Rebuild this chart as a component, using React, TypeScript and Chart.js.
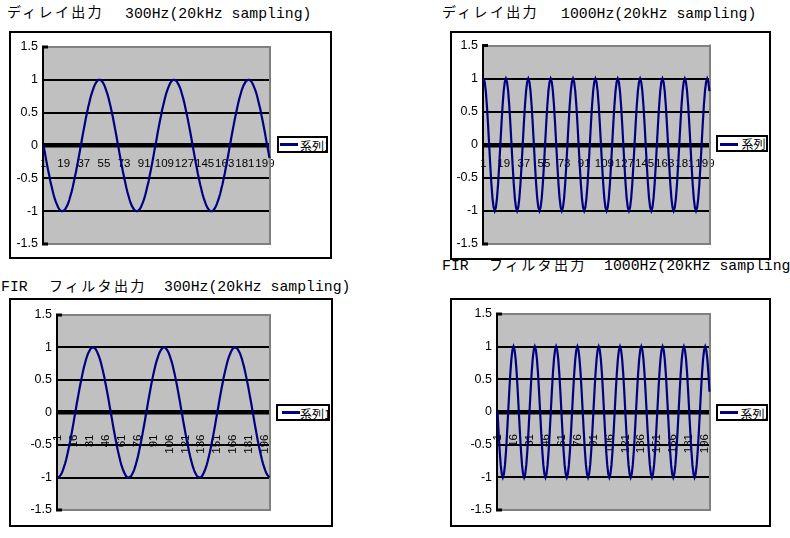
import { useEffect, useRef } from 'react';
import { Chart, registerables } from 'chart.js';

Chart.register(...registerables);

// ---------- data ----------
const SERIES_NAME = '系列1';
const TICKS_EVERY_18 = ['1', '19', '37', '55', '73', '91', '109', '127', '145', '163', '181', '199'];
const TICKS_EVERY_15 = ['1', '16', '31', '46', '61', '76', '91', '106', '121', '136', '151', '166', '181', '196'];
const Y_MIN = -1.5;
const Y_MAX = 1.5;
const Y_STEP = 0.5;

// ディレイ出力 300Hz
const DELAY_300 = [
  0, -0.09, -0.19, -0.28, -0.37, -0.45, -0.54, -0.61, -0.68, -0.75,
  -0.81, -0.86, -0.9, -0.94, -0.97, -0.99, -1, -1, -0.99, -0.98,
  -0.95, -0.92, -0.88, -0.83, -0.77, -0.71, -0.64, -0.56, -0.48, -0.4,
  -0.31, -0.22, -0.13, -0.03, 0.06, 0.16, 0.25, 0.34, 0.43, 0.51,
  0.59, 0.66, 0.73, 0.79, 0.84, 0.89, 0.93, 0.96, 0.98, 1,
  1, 1, 0.98, 0.96, 0.93, 0.89, 0.84, 0.79, 0.73, 0.66,
  0.59, 0.51, 0.43, 0.34, 0.25, 0.16, 0.06,
  -0.03, -0.13, -0.22, -0.31, -0.4, -0.48, -0.56, -0.64, -0.71, -0.77,
  -0.83, -0.88, -0.92, -0.95, -0.98, -0.99, -1, -1, -0.99, -0.97,
  -0.94, -0.9, -0.86, -0.81, -0.75, -0.68, -0.61, -0.54, -0.45, -0.37,
  -0.28, -0.19, -0.09, 0, 0.09, 0.19, 0.28, 0.37, 0.45, 0.54,
  0.61, 0.68, 0.75, 0.81, 0.86, 0.9, 0.94, 0.97, 0.99, 1,
  1, 0.99, 0.98, 0.95, 0.92, 0.88, 0.83, 0.77, 0.71, 0.64,
  0.56, 0.48, 0.4, 0.31, 0.22, 0.13, 0.03,
  -0.06, -0.16, -0.25, -0.34, -0.43, -0.51, -0.59, -0.66, -0.73, -0.79,
  -0.84, -0.89, -0.93, -0.96, -0.98, -1, -1, -1, -0.98, -0.96,
  -0.93, -0.89, -0.84, -0.79, -0.73, -0.66, -0.59, -0.51, -0.43, -0.34,
  -0.25, -0.16, -0.06, 0.03, 0.13, 0.22, 0.31, 0.4, 0.48, 0.56,
  0.64, 0.71, 0.77, 0.83, 0.88, 0.92, 0.95, 0.98, 0.99, 1,
  1, 0.99, 0.97, 0.94, 0.9, 0.86, 0.81, 0.75, 0.68, 0.61,
  0.54, 0.45, 0.37, 0.28, 0.19, 0.09,
  0, -0.09, -0.19,
];

// ディレイ出力 1000Hz
const DELAY_1000 = [
  1, 0.95, 0.81, 0.59, 0.31, 0, -0.31, -0.59, -0.81, -0.95, -1, -0.95, -0.81, -0.59, -0.31, 0, 0.31, 0.59, 0.81, 0.95,
  1, 0.95, 0.81, 0.59, 0.31, 0, -0.31, -0.59, -0.81, -0.95, -1, -0.95, -0.81, -0.59, -0.31, 0, 0.31, 0.59, 0.81, 0.95,
  1, 0.95, 0.81, 0.59, 0.31, 0, -0.31, -0.59, -0.81, -0.95, -1, -0.95, -0.81, -0.59, -0.31, 0, 0.31, 0.59, 0.81, 0.95,
  1, 0.95, 0.81, 0.59, 0.31, 0, -0.31, -0.59, -0.81, -0.95, -1, -0.95, -0.81, -0.59, -0.31, 0, 0.31, 0.59, 0.81, 0.95,
  1, 0.95, 0.81, 0.59, 0.31, 0, -0.31, -0.59, -0.81, -0.95, -1, -0.95, -0.81, -0.59, -0.31, 0, 0.31, 0.59, 0.81, 0.95,
  1, 0.95, 0.81, 0.59, 0.31, 0, -0.31, -0.59, -0.81, -0.95, -1, -0.95, -0.81, -0.59, -0.31, 0, 0.31, 0.59, 0.81, 0.95,
  1, 0.95, 0.81, 0.59, 0.31, 0, -0.31, -0.59, -0.81, -0.95, -1, -0.95, -0.81, -0.59, -0.31, 0, 0.31, 0.59, 0.81, 0.95,
  1, 0.95, 0.81, 0.59, 0.31, 0, -0.31, -0.59, -0.81, -0.95, -1, -0.95, -0.81, -0.59, -0.31, 0, 0.31, 0.59, 0.81, 0.95,
  1, 0.95, 0.81, 0.59, 0.31, 0, -0.31, -0.59, -0.81, -0.95, -1, -0.95, -0.81, -0.59, -0.31, 0, 0.31, 0.59, 0.81, 0.95,
  1, 0.95, 0.81, 0.59, 0.31, 0, -0.31, -0.59, -0.81, -0.95, -1, -0.95, -0.81, -0.59, -0.31, 0, 0.31, 0.59, 0.81, 0.95,
  1, 0.95, 0.81,
];

// FIR フィルタ出力 300Hz
const FIR_300 = [
  -1, -1, -0.98, -0.96, -0.93, -0.89, -0.84, -0.79, -0.73, -0.66,
  -0.59, -0.51, -0.43, -0.34, -0.25, -0.16, -0.06, 0.03, 0.13, 0.22,
  0.31, 0.4, 0.48, 0.56, 0.64, 0.71, 0.77, 0.83, 0.88, 0.92,
  0.95, 0.98, 0.99, 1, 1, 0.99, 0.97, 0.94, 0.9, 0.86,
  0.81, 0.75, 0.68, 0.61, 0.54, 0.45, 0.37, 0.28, 0.19, 0.09,
  0, -0.09, -0.19, -0.28, -0.37, -0.45, -0.54, -0.61, -0.68, -0.75,
  -0.81, -0.86, -0.9, -0.94, -0.97, -0.99, -1,
  -1, -0.99, -0.98, -0.95, -0.92, -0.88, -0.83, -0.77, -0.71, -0.64,
  -0.56, -0.48, -0.4, -0.31, -0.22, -0.13, -0.03, 0.06, 0.16, 0.25,
  0.34, 0.43, 0.51, 0.59, 0.66, 0.73, 0.79, 0.84, 0.89, 0.93,
  0.96, 0.98, 1, 1, 1, 0.98, 0.96, 0.93, 0.89, 0.84,
  0.79, 0.73, 0.66, 0.59, 0.51, 0.43, 0.34, 0.25, 0.16, 0.06,
  -0.03, -0.13, -0.22, -0.31, -0.4, -0.48, -0.56, -0.64, -0.71, -0.77,
  -0.83, -0.88, -0.92, -0.95, -0.98, -0.99, -1,
  -1, -0.99, -0.97, -0.94, -0.9, -0.86, -0.81, -0.75, -0.68, -0.61,
  -0.54, -0.45, -0.37, -0.28, -0.19, -0.09, 0, 0.09, 0.19, 0.28,
  0.37, 0.45, 0.54, 0.61, 0.68, 0.75, 0.81, 0.86, 0.9, 0.94,
  0.97, 0.99, 1, 1, 0.99, 0.98, 0.95, 0.92, 0.88, 0.83,
  0.77, 0.71, 0.64, 0.56, 0.48, 0.4, 0.31, 0.22, 0.13, 0.03,
  -0.06, -0.16, -0.25, -0.34, -0.43, -0.51, -0.59, -0.66, -0.73, -0.79,
  -0.84, -0.89, -0.93, -0.96, -0.98, -1,
];

// FIR フィルタ出力 1000Hz
const FIR_1000 = [
  0, -0.31, -0.59, -0.81, -0.95, -1, -0.95, -0.81, -0.59, -0.31, 0, 0.31, 0.59, 0.81, 0.95, 1, 0.95, 0.81, 0.59, 0.31,
  0, -0.31, -0.59, -0.81, -0.95, -1, -0.95, -0.81, -0.59, -0.31, 0, 0.31, 0.59, 0.81, 0.95, 1, 0.95, 0.81, 0.59, 0.31,
  0, -0.31, -0.59, -0.81, -0.95, -1, -0.95, -0.81, -0.59, -0.31, 0, 0.31, 0.59, 0.81, 0.95, 1, 0.95, 0.81, 0.59, 0.31,
  0, -0.31, -0.59, -0.81, -0.95, -1, -0.95, -0.81, -0.59, -0.31, 0, 0.31, 0.59, 0.81, 0.95, 1, 0.95, 0.81, 0.59, 0.31,
  0, -0.31, -0.59, -0.81, -0.95, -1, -0.95, -0.81, -0.59, -0.31, 0, 0.31, 0.59, 0.81, 0.95, 1, 0.95, 0.81, 0.59, 0.31,
  0, -0.31, -0.59, -0.81, -0.95, -1, -0.95, -0.81, -0.59, -0.31, 0, 0.31, 0.59, 0.81, 0.95, 1, 0.95, 0.81, 0.59, 0.31,
  0, -0.31, -0.59, -0.81, -0.95, -1, -0.95, -0.81, -0.59, -0.31, 0, 0.31, 0.59, 0.81, 0.95, 1, 0.95, 0.81, 0.59, 0.31,
  0, -0.31, -0.59, -0.81, -0.95, -1, -0.95, -0.81, -0.59, -0.31, 0, 0.31, 0.59, 0.81, 0.95, 1, 0.95, 0.81, 0.59, 0.31,
  0, -0.31, -0.59, -0.81, -0.95, -1, -0.95, -0.81, -0.59, -0.31, 0, 0.31, 0.59, 0.81, 0.95, 1, 0.95, 0.81, 0.59, 0.31,
  0, -0.31, -0.59, -0.81, -0.95, -1, -0.95, -0.81, -0.59, -0.31, 0, 0.31, 0.59, 0.81, 0.95, 1, 0.95, 0.81, 0.59, 0.31,
];

// ---------- styling ----------
const SANS = '"Liberation Sans", Arial, sans-serif';
const MONO = '"Liberation Mono", "DejaVu Sans Mono", monospace';
const JP = '"Noto Sans CJK JP", sans-serif';
const NAVY = '#000080';

type Part = { text: string; x: number; top: number; kind: 'jp' | 'mono' };
type Box = { left: number; top: number; width: number; height: number };
type Spec = {
  data: number[];
  shown: string[];
  rotation: number;
  tickPad: number;
  frame: Box;
  yWidth: number;
  pad: { top: number; right: number; bottom: number };
  legend: Box & { lineLeft: number; lineTop: number; textLeft: number; textTop: number };
  title: Part[];
};

const SPECS: Spec[] = [
  {
    data: DELAY_300,
    shown: TICKS_EVERY_18,
    rotation: 0,
    tickPad: 11,
    frame: { left: 9, top: 31, width: 323, height: 228 },
    yWidth: 32,
    pad: { top: 14, right: 60, bottom: 13 },
    legend: { left: 277, top: 136, width: 51, height: 17, lineLeft: 1, lineTop: 5, textLeft: 21, textTop: 1 },
    title: [
      { text: 'ディレイ出力', x: 7, top: 1.2, kind: 'jp' },
      { text: '300Hz(20kHz sampling)', x: 125, top: 4.3, kind: 'mono' },
    ],
  },
  {
    data: DELAY_1000,
    shown: TICKS_EVERY_18,
    rotation: 0,
    tickPad: 12,
    frame: { left: 450, top: 31, width: 321, height: 229 },
    yWidth: 31,
    pad: { top: 12, right: 59, bottom: 14 },
    legend: { left: 716, top: 135, width: 52, height: 17, lineLeft: 2, lineTop: 6, textLeft: 23.5, textTop: 0 },
    title: [
      { text: 'ディレイ出力', x: 442, top: 1.2, kind: 'jp' },
      { text: '1000Hz(20kHz sampling)', x: 561, top: 4.3, kind: 'mono' },
    ],
  },
  {
    data: FIR_300,
    shown: TICKS_EVERY_15,
    rotation: 90,
    tickPad: 22,
    frame: { left: 9, top: 298, width: 324, height: 229 },
    yWidth: 46,
    pad: { top: 15, right: 61, bottom: 15 },
    legend: { left: 276, top: 404, width: 54, height: 17, lineLeft: 3.5, lineTop: 5, textLeft: 22, textTop: 0.5 },
    title: [
      { text: 'FIR', x: 1, top: 276.7, kind: 'mono' },
      { text: 'フィルタ出力', x: 49, top: 274.6, kind: 'jp' },
      { text: '300Hz(20kHz sampling)', x: 164, top: 276.7, kind: 'mono' },
    ],
  },
  {
    data: FIR_1000,
    shown: TICKS_EVERY_15,
    rotation: 90,
    tickPad: 22,
    frame: { left: 450, top: 298, width: 321, height: 229 },
    yWidth: 45,
    pad: { top: 14, right: 59, bottom: 15 },
    legend: { left: 716, top: 404, width: 52, height: 17, lineLeft: 2, lineTop: 5, textLeft: 22.5, textTop: 0.5 },
    title: [
      { text: 'FIR', x: 442, top: 256.2, kind: 'mono' },
      { text: 'フィルタ出力', x: 489, top: 253.9, kind: 'jp' },
      { text: '1000Hz(20kHz sampling)', x: 604, top: 256.2, kind: 'mono' },
    ],
  },
];

const excelPlot = {
  id: 'excelPlot',
  beforeDraw(chart: any) {
    const { ctx, chartArea: a } = chart;
    ctx.save();
    ctx.fillStyle = '#C0C0C0';
    ctx.fillRect(a.left, a.top, a.right - a.left, a.bottom - a.top);
    ctx.restore();
  },
  beforeDatasetsDraw(chart: any) {
    const { ctx, chartArea: a } = chart;
    ctx.save();
    ctx.strokeStyle = '#808080';
    ctx.lineWidth = 2;
    ctx.beginPath();
    ctx.moveTo(a.right, a.top - 1);
    ctx.lineTo(a.right, a.bottom + 1);
    ctx.stroke();
    ctx.strokeStyle = '#000';
    ctx.lineWidth = 3;
    ctx.beginPath();
    ctx.moveTo(a.left - 1, a.top);
    ctx.lineTo(a.left + 5, a.top);
    ctx.moveTo(a.left - 1, a.bottom);
    ctx.lineTo(a.left + 5, a.bottom);
    ctx.stroke();
    ctx.restore();
  },
};

function ExcelLineChart({ spec }: { spec: Spec }) {
  const ref = useRef<HTMLCanvasElement>(null);
  const w = spec.frame.width - 4;
  const h = spec.frame.height - 4;

  useEffect(() => {
    const labels = spec.data.map((_, i) => String(i + 1));
    const chart = new Chart(ref.current as HTMLCanvasElement, {
      type: 'line',
      data: {
        labels,
        datasets: [
          {
            label: SERIES_NAME,
            data: spec.data,
            borderColor: NAVY,
            backgroundColor: NAVY,
            borderWidth: 2.2,
            pointRadius: 0,
            tension: 0,
            fill: false,
          },
        ],
      },
      options: {
        responsive: false,
        animation: false,
        devicePixelRatio: 1,
        events: [],
        layout: { padding: { left: 0, top: spec.pad.top, right: spec.pad.right, bottom: spec.pad.bottom } },
        plugins: { legend: { display: false }, tooltip: { enabled: false }, title: { display: false } },
        scales: {
          x: {
            type: 'category',
            position: { y: 0 } as any,
            offset: true,
            grid: { display: false, drawTicks: false },
            border: { display: false },
            ticks: {
              autoSkip: false,
              minRotation: spec.rotation,
              maxRotation: spec.rotation,
              padding: spec.tickPad,
              color: '#000',
              font: { family: SANS, size: 11.5 },
              callback: (_v: any, idx: number) => {
                const l = labels[idx];
                return spec.shown.indexOf(l) >= 0 ? l : '';
              },
            },
          },
          y: {
            type: 'linear',
            min: Y_MIN,
            max: Y_MAX,
            afterFit: (scale: any) => {
              scale.width = spec.yWidth;
            },
            grid: {
              drawTicks: false,
              color: (c: any) => (Math.abs(c.tick.value) === Y_MAX ? '#808080' : '#000'),
              lineWidth: (c: any) => (c.tick.value === 0 ? 4.5 : 2),
            },
            border: { display: true, color: '#000', width: 2 },
            ticks: {
              stepSize: Y_STEP,
              padding: 5,
              color: '#000',
              font: { family: SANS, size: 12.5 },
              callback: (v: any) => String(v),
            },
          },
        },
      },
      plugins: [excelPlot],
    } as any);
    return () => chart.destroy();
  }, [spec]);

  const f = spec.frame;
  const lg = spec.legend;
  return (
    <>
      <div
        style={{
          position: 'absolute',
          left: f.left,
          top: f.top,
          width: f.width,
          height: f.height,
          boxSizing: 'border-box',
          border: '2px solid #000',
          background: '#fff',
        }}
      >
        <canvas ref={ref} width={w} height={h} style={{ display: 'block', width: w, height: h }} />
      </div>
      <div
        style={{
          position: 'absolute',
          left: lg.left,
          top: lg.top,
          width: lg.width,
          height: lg.height,
          boxSizing: 'border-box',
          border: '2px solid #000',
          background: '#fff',
          overflow: 'hidden',
        }}
      >
        <div style={{ position: 'absolute', left: lg.lineLeft, top: lg.lineTop, width: 18, height: 3, background: NAVY }} />
        <span
          style={{
            position: 'absolute',
            left: lg.textLeft,
            top: lg.textTop,
            fontFamily: JP,
            fontSize: 12,
            lineHeight: '14px',
            whiteSpace: 'pre',
            color: '#000',
          }}
        >
          {SERIES_NAME}
        </span>
      </div>
    </>
  );
}

function Titles() {
  return (
    <>
      {SPECS.flatMap((s, si) =>
        s.title.map((p, pi) => (
          <span
            key={si + '-' + pi}
            style={{
              position: 'absolute',
              left: p.x,
              top: p.top,
              whiteSpace: 'pre',
              lineHeight: '20px',
              fontSize: p.kind === 'jp' ? 14 : 14.8,
              fontFamily: p.kind === 'jp' ? JP : MONO,
              letterSpacing: p.kind === 'jp' ? '2.3px' : '0px',
              color: '#000',
            }}
          >
            {p.text}
          </span>
        )),
      )}
    </>
  );
}

export default function App() {
  return (
    <div
      style={{
        position: 'absolute',
        left: 0,
        top: 0,
        width: 790,
        height: 538,
        overflow: 'hidden',
        background: '#fff',
      }}
    >
      <Titles />
      {SPECS.map((s, i) => (
        <ExcelLineChart key={i} spec={s} />
      ))}
    </div>
  );
}
